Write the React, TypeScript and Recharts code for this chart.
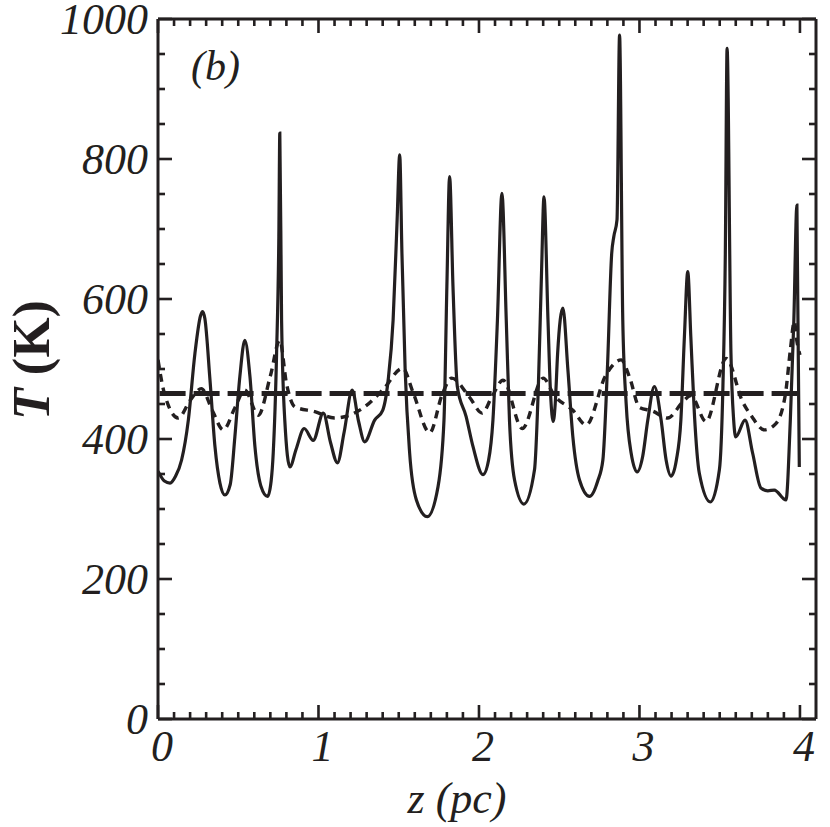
import { LineChart, Line, XAxis, YAxis } from 'recharts';

// solid curve (z in pc, T in K)
const solidZ = [0.0, 0.04, 0.075, 0.11, 0.147, 0.189, 0.23, 0.265, 0.278, 0.292, 0.324, 0.355, 0.386, 0.417, 0.45, 0.479, 0.51, 0.541, 0.573, 0.604, 0.641, 0.683, 0.705, 0.718, 0.739, 0.753, 0.759, 0.77, 0.79, 0.822, 0.86, 0.911, 0.967, 1.03, 1.075, 1.118, 1.16, 1.21, 1.25, 1.288, 1.35, 1.4, 1.434, 1.465, 1.49, 1.506, 1.52, 1.54, 1.568, 1.61, 1.678, 1.745, 1.782, 1.8, 1.817, 1.838, 1.865, 1.92, 1.963, 2.025, 2.06, 2.087, 2.115, 2.143, 2.17, 2.19, 2.222, 2.28, 2.346, 2.37, 2.39, 2.405, 2.43, 2.446, 2.463, 2.475, 2.49, 2.523, 2.554, 2.585, 2.627, 2.689, 2.74, 2.772, 2.8, 2.827, 2.84, 2.86, 2.876, 2.896, 2.917, 2.948, 2.986, 3.02, 3.052, 3.093, 3.135, 3.166, 3.197, 3.23, 3.258, 3.28, 3.301, 3.32, 3.342, 3.373, 3.442, 3.498, 3.52, 3.535, 3.546, 3.57, 3.587, 3.6, 3.658, 3.705, 3.757, 3.8, 3.84, 3.913, 3.94, 3.962, 3.981, 3.996];
const solidT = [354, 340, 337, 347, 370, 427, 522, 576, 582, 572, 484, 389, 337, 320, 335, 403, 489, 541, 489, 389, 333, 318, 340, 380, 523, 690, 837, 570, 427, 360, 385, 415, 398, 437, 395, 366, 410, 470, 425, 396, 427, 441, 484, 570, 713, 806, 665, 499, 380, 313, 289, 332, 427, 618, 775, 618, 475, 432, 389, 349, 370, 427, 570, 751, 570, 427, 341, 307, 356, 475, 640, 746, 570, 465, 425, 450, 522, 587, 499, 403, 341, 318, 340, 370, 499, 665, 689, 713, 977, 570, 451, 380, 353, 375, 427, 475, 427, 370, 347, 370, 427, 546, 639, 546, 437, 351, 310, 356, 475, 665, 958, 523, 427, 403, 427, 380, 330, 326, 327, 313, 427, 570, 734, 360];

// dashed curve
const dashedZ = [0.0, 0.04, 0.126, 0.2, 0.27, 0.34, 0.407, 0.48, 0.54, 0.625, 0.7, 0.759, 0.8, 0.853, 0.977, 1.1, 1.276, 1.4, 1.525, 1.59, 1.693, 1.77, 1.83, 1.94, 2.02, 2.08, 2.15, 2.27, 2.4, 2.47, 2.585, 2.668, 2.79, 2.886, 2.94, 3.0, 3.08, 3.176, 3.27, 3.32, 3.415, 3.54, 3.643, 3.7, 3.778, 3.85, 3.91, 3.94, 3.965, 3.98, 4.0];
const dashedT = [513, 465, 430, 455, 472, 440, 413, 445, 470, 434, 490, 541, 480, 446, 439, 430, 444, 470, 501, 466, 409, 463, 487, 460, 437, 460, 484, 415, 487, 462, 441, 420, 491, 513, 487, 445, 440, 430, 453, 462, 425, 515, 453, 432, 413, 422, 465, 527, 568, 541, 520];

// noisy near-constant curve
const noiseZ = [0.01, 4.0];
const noiseT = [465, 465];

const xTickLabels = [0, 1, 2, 3, 4];
const yTickLabels = [0, 200, 400, 600, 800, 1000];

const solidData = solidZ.map((z, i) => ({ z, T: solidT[i] }));
const dashedData = dashedZ.map((z, i) => ({ z, T: dashedT[i] }));
const noiseData = noiseZ.map((z, i) => ({ z, T: noiseT[i] }));

// ticks every 0.1 pc and every 50 K
const xTicks = Array.from({ length: 41 }, (_, i) => i / 10);
const yTicks = Array.from({ length: 21 }, (_, i) => i * 50);

const INK = '#231f20';
const FONT = '"Liberation Serif", "DejaVu Serif", serif';
const MAJOR = 14;
const MINOR = 7;
const TW = 2.6;

const isMajorX = (v: number) => xTickLabels.some((t) => Math.abs(t - v) < 1e-6);
const isMajorY = (v: number) => yTickLabels.some((t) => Math.abs(t - v) < 1e-6);

const BottomTick = (props: any) => {
  const x = Number(props.x);
  const y = Number(props.y);
  const v = props.payload.value;
  const len = isMajorX(v) ? MAJOR : MINOR;
  return (
    <g>
      <rect x={x - TW / 2} y={y - len} width={TW} height={len} fill={INK} />
      {isMajorX(v) && (
        <text x={x + 4} y={y + 42} textAnchor="middle" fontFamily={FONT} fontStyle="italic" fontSize={44} fill={INK}>
          {Math.round(v)}
        </text>
      )}
    </g>
  );
};

const TopTick = (props: any) => {
  const x = Number(props.x);
  const y = Number(props.y);
  const len = isMajorX(props.payload.value) ? MAJOR : MINOR;
  return <rect x={x - TW / 2} y={y} width={TW} height={len} fill={INK} />;
};

const LeftTick = (props: any) => {
  const x = Number(props.x);
  const y = Number(props.y);
  const v = props.payload.value;
  const len = isMajorY(v) ? MAJOR : MINOR;
  return (
    <g>
      <rect x={x} y={y - TW / 2} width={len} height={TW} fill={INK} />
      {isMajorY(v) && (
        <text x={x - 10} y={y + 15} textAnchor="end" fontFamily={FONT} fontStyle="italic" fontSize={44} fill={INK}>
          {v}
        </text>
      )}
    </g>
  );
};

const RightTick = (props: any) => {
  const x = Number(props.x);
  const y = Number(props.y);
  const len = isMajorY(props.payload.value) ? MAJOR : MINOR;
  return <rect x={x - len} y={y - TW / 2} width={len} height={TW} fill={INK} />;
};

export default function App() {
  return (
    <div style={{ position: 'absolute', left: 0, top: 0, width: 830, height: 827, background: '#fff' }}>
      <LineChart width={830} height={827} margin={{ top: 18, right: 13, bottom: 107, left: 157 }}>
        <XAxis xAxisId="b" type="number" dataKey="z" domain={[0, 4.1]} ticks={xTicks} interval={0}
          height={1} tickSize={0} tickMargin={0} tickLine={false} tick={<BottomTick />}
          axisLine={{ stroke: INK, strokeWidth: 3 }} allowDataOverflow />
        <XAxis xAxisId="t" orientation="top" type="number" dataKey="z" domain={[0, 4.1]} ticks={xTicks} interval={0}
          height={1} tickSize={0} tickMargin={0} tickLine={false} tick={<TopTick />}
          axisLine={{ stroke: INK, strokeWidth: 3 }} allowDataOverflow />
        <YAxis yAxisId="l" type="number" domain={[0, 1000]} ticks={yTicks} interval={0}
          width={1} tickSize={0} tickMargin={0} tickLine={false} tick={<LeftTick />}
          axisLine={{ stroke: INK, strokeWidth: 3 }} allowDataOverflow />
        <YAxis yAxisId="r" orientation="right" type="number" domain={[0, 1000]} ticks={yTicks} interval={0}
          width={1} tickSize={0} tickMargin={0} tickLine={false} tick={<RightTick />}
          axisLine={{ stroke: INK, strokeWidth: 3 }} allowDataOverflow />
        {/* the flat noisy run sits on the mirrored top/right axes (same domains) so they get ticks */}
        <Line xAxisId="t" yAxisId="r" data={noiseData} dataKey="T" type="linear" stroke={INK}
          strokeWidth={5} strokeDasharray="26 8" dot={false} isAnimationActive={false} />
        <Line xAxisId="b" yAxisId="l" data={dashedData} dataKey="T" type="monotone" stroke={INK}
          strokeWidth={3.4} strokeDasharray="8 6" dot={false} isAnimationActive={false} />
        <Line xAxisId="b" yAxisId="l" data={solidData} dataKey="T" type="monotone" stroke={INK}
          strokeWidth={3.2} dot={false} isAnimationActive={false} />
      </LineChart>
      <svg width={830} height={827} style={{ position: 'absolute', left: 0, top: 0, pointerEvents: 'none' }}>
        <text x={191} y={80} fontFamily={FONT} fontStyle="italic" fontSize={42} fill={INK}>(b)</text>
        <text x={457} y={813} textAnchor="middle" fontFamily={FONT} fontStyle="italic" fontSize={44} fill={INK}>z  (pc)</text>
        <text transform="translate(49,360) rotate(-90)" textAnchor="middle" fontFamily={FONT} fontWeight="bold" fontSize={52} fill={INK}>
          <tspan fontStyle="italic">T</tspan> (K)
        </text>
      </svg>
    </div>
  );
}
